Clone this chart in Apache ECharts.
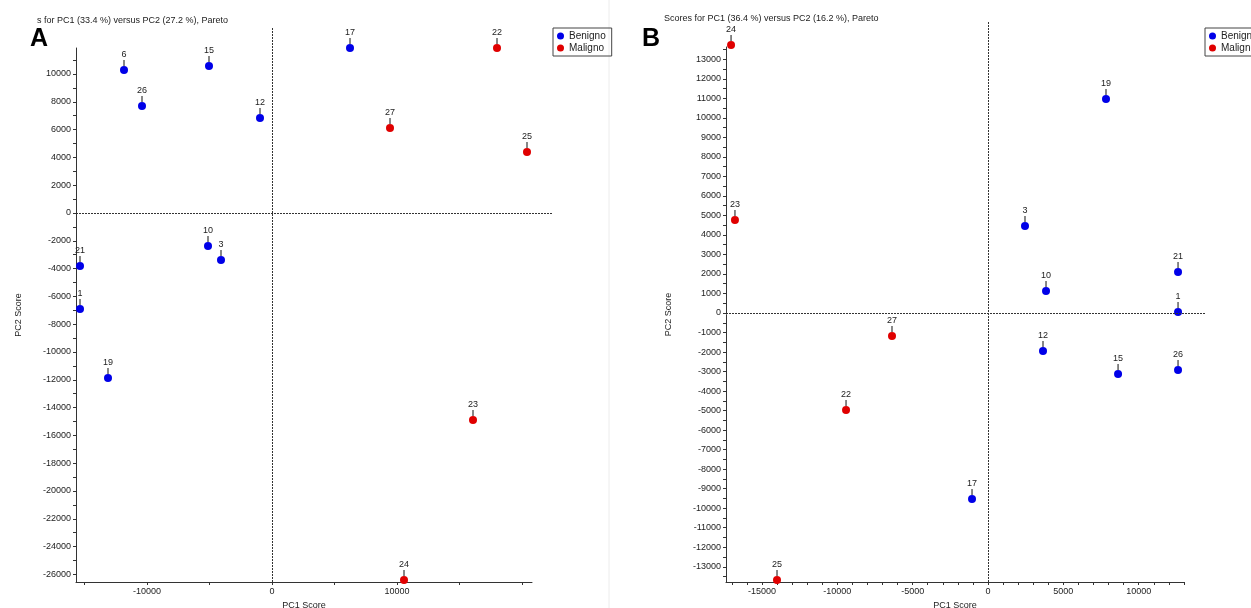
<!DOCTYPE html>
<html><head><meta charset="utf-8">
<script src="https://cdn.jsdelivr.net/npm/echarts@6/dist/echarts.min.js"></script>
<style>html,body{margin:0;padding:0;background:#fff}#c{width:1251px;height:608px}</style>
</head><body><div id="c"></div>
<script>
// ---------- Panel A data ----------
const A_BEN_ID  = ['6','15','26','12','17','10','3','21','1','19'];
const A_BEN_PC1 = [-11840,-5040,-10400,-960,6240,-5120,-4080,-15360,-15360,-13120];
const A_BEN_PC2 = [10290,10580,7700,6840,11870,-2370,-3380,-3810,-6910,-11870];
const A_MAL_ID  = ['22','27','25','23','24'];
const A_MAL_PC1 = [18000,9440,20400,16080,10560];
const A_MAL_PC2 = [11870,6115,4390,-14890,-26400];
// ---------- Panel B data ----------
const B_BEN_ID  = ['19','3','10','21','1','12','15','26','17'];
const B_BEN_PC1 = [7830,2455,3850,12610,12610,3650,8630,12610,-1060];
const B_BEN_PC2 = [10960,4460,1130,2100,50,-1950,-3120,-2920,-9530];
const B_MAL_ID  = ['24','23','27','22','25'];
const B_MAL_PC1 = [-17050,-16790,-6370,-9420,-14000];
const B_MAL_PC2 = [13730,4760,-1180,-4970,-13680];
// ---------- tick labels ----------
const A_X_LABELS = [-10000,0,10000];
const A_X_TICKS  = [-15000,-10000,-5000,0,5000,10000,15000,20000];
const A_Y_LABELS = [-26000,-24000,-22000,-20000,-18000,-16000,-14000,-12000,-10000,-8000,-6000,-4000,-2000,0,2000,4000,6000,8000,10000];
const A_Y_TICKS  = [];
for (let v = -26000; v <= 11000; v += 1000) A_Y_TICKS.push(v);
const B_X_LABELS = [-15000,-10000,-5000,0,5000,10000];
const B_X_TICKS  = [];
for (let v = -17000; v <= 13000; v += 1000) B_X_TICKS.push(v);
const B_Y_LABELS = [];
for (let v = -13000; v <= 13000; v += 1000) B_Y_LABELS.push(v);
const B_Y_TICKS  = [];
for (let v = -13500; v <= 13500; v += 500) B_Y_TICKS.push(v);

const BLUE = '#0000e8', RED = '#e00000', FONT = 'Liberation Sans';

function pts(xs, ys, ids) { return xs.map((x, i) => [x, ys[i], ids[i]]); }

const chart = echarts.init(document.getElementById('c'), null, {renderer: 'canvas'});

function valAxis(gi, min, max, labels, ticks, extra) {
  return Object.assign({
    type: 'value', gridIndex: gi, min: min, max: max, scale: true,
    axisLine: {show: true, onZero: false, lineStyle: {color: '#333', width: 1}},
    axisTick: {show: true, length: 3, customValues: ticks, lineStyle: {color: '#333'}},
    axisLabel: {customValues: labels, fontSize: 9, color: '#222', fontFamily: FONT, margin: 5,
                formatter: v => String(v)},
    splitLine: {show: false},
    nameTextStyle: {fontSize: 9, color: '#222', fontFamily: FONT}
  }, extra || {});
}
function hiddenAxis(gi, min, max) {
  return {type: 'value', gridIndex: gi, min: min, max: max, show: false, splitLine: {show: false}};
}

function scatterSeries(name, color, data, xi, yi) {
  return {
    type: 'scatter', name: name, xAxisIndex: xi, yAxisIndex: yi, data: data,
    symbol: 'circle', symbolSize: 8, clip: false, z: 3,
    itemStyle: {color: color, opacity: 1},
    label: {show: true, position: 'top', distance: 7, fontSize: 9, color: '#222', fontFamily: FONT,
            formatter: p => p.data[2]}
  };
}
function stemSeries(data, xi, yi) {
  return {
    type: 'scatter', xAxisIndex: xi, yAxisIndex: yi, data: data, silent: true,
    symbol: 'rect', symbolSize: [1, 6], symbolOffset: [0, -7], clip: false, z: 2,
    itemStyle: {color: '#111', opacity: 1}
  };
}
function zeroLines(xi, yi) {
  return {
    type: 'scatter', xAxisIndex: xi, yAxisIndex: yi, data: [], silent: true,
    markLine: {silent: true, symbol: 'none', label: {show: false},
      lineStyle: {color: '#333', type: [2, 1], width: 1},
      data: [{xAxis: 0}, {yAxis: 0}]}
  };
}

const aBen = pts(A_BEN_PC1, A_BEN_PC2, A_BEN_ID), aMal = pts(A_MAL_PC1, A_MAL_PC2, A_MAL_ID);
const bBen = pts(B_BEN_PC1, B_BEN_PC2, B_BEN_ID), bMal = pts(B_MAL_PC1, B_MAL_PC2, B_MAL_ID);

const legendBase = {
  orient: 'vertical', top: 28, itemWidth: 7, itemHeight: 7, itemGap: 2, icon: 'circle',
  padding: [3, 6, 3, 4], borderColor: '#444', borderWidth: 1, selectedMode: false,
  textStyle: {fontSize: 10, color: '#222', fontFamily: FONT}, data: ['Benigno', 'Maligno']
};
const gridBase = {outerBoundsMode: 'none', containLabel: false};

chart.setOption({
  backgroundColor: '#fff',
  animation: false,
  title: [
    {text: 's for PC1 (33.4 %) versus PC2 (27.2 %), Pareto', left: 37, top: 16, padding: 0,
     textStyle: {fontSize: 9, fontWeight: 'normal', color: '#222', fontFamily: FONT}},
    {text: 'Scores for PC1 (36.4 %) versus PC2 (16.2 %), Pareto', left: 664, top: 14, padding: 0,
     textStyle: {fontSize: 9, fontWeight: 'normal', color: '#222', fontFamily: FONT}},
    {text: 'A', left: 30, top: 27, padding: 0, textStyle: {fontSize: 25, fontWeight: 'bold', color: '#000', fontFamily: FONT}},
    {text: 'B', left: 642, top: 27, padding: 0, textStyle: {fontSize: 25, fontWeight: 'bold', color: '#000', fontFamily: FONT}}
  ],
  legend: [
    Object.assign({left: 553}, legendBase),
    Object.assign({left: 1205}, legendBase)
  ],
  graphic: [{type: 'line', shape: {x1: 609, y1: 0, x2: 609, y2: 608}, style: {stroke: '#ececec', lineWidth: 1}}],
  grid: [
    Object.assign({left: 76, top: 48, width: 456, height: 534}, gridBase),
    Object.assign({left: 76, top: 27, width: 477, height: 555}, gridBase),
    Object.assign({left: 726, top: 47, width: 458, height: 535}, gridBase),
    Object.assign({left: 726, top: 22, width: 479, height: 560}, gridBase)
  ],
  xAxis: [
    valAxis(0, -15680, 20800, A_X_LABELS, A_X_TICKS, {name: 'PC1 Score', nameLocation: 'middle', nameGap: 17}),
    hiddenAxis(1, -15680, 22480),
    valAxis(2, -17385, 13006, B_X_LABELS, B_X_TICKS, {name: 'PC1 Score', nameLocation: 'middle', nameGap: 17}),
    hiddenAxis(3, -17385, 14400)
  ],
  yAxis: [
    valAxis(0, -26547, 11870, A_Y_LABELS, A_Y_TICKS, {name: 'PC2 Score', nameLocation: 'middle', nameGap: 53}),
    hiddenAxis(1, -26547, 13381),
    valAxis(2, -13780, 13627, B_Y_LABELS, B_Y_TICKS, {name: 'PC2 Score', nameLocation: 'middle', nameGap: 53}),
    hiddenAxis(3, -13780, 14908)
  ],
  series: [
    zeroLines(1, 1),
    zeroLines(3, 3),
    stemSeries(aBen.concat(aMal), 0, 0),
    stemSeries(bBen.concat(bMal), 2, 2),
    scatterSeries('Benigno', BLUE, aBen, 0, 0),
    scatterSeries('Maligno', RED, aMal, 0, 0),
    scatterSeries('Benigno', BLUE, bBen, 2, 2),
    scatterSeries('Maligno', RED, bMal, 2, 2)
  ]
});
</script></body></html>
